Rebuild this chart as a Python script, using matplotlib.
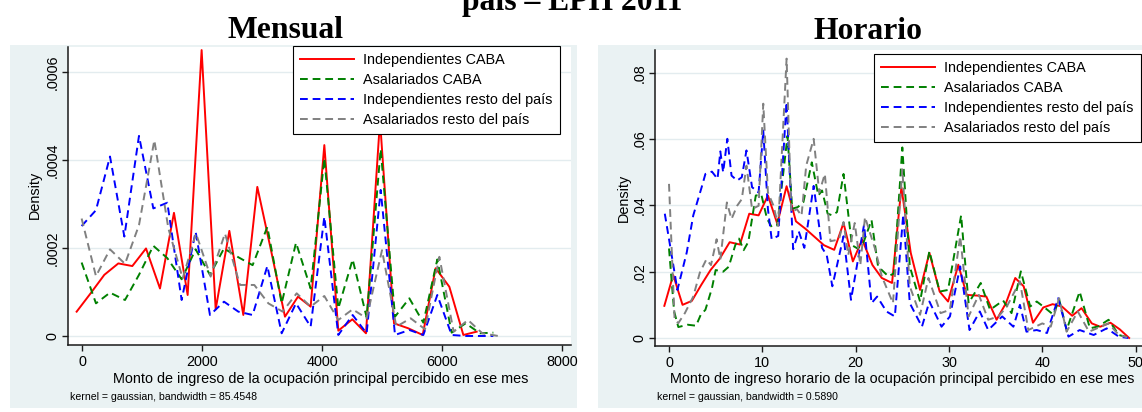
import numpy as np
import matplotlib
matplotlib.use("Agg")
import matplotlib.pyplot as plt
from matplotlib.patches import Rectangle

plt.rcParams['font.family'] = ['Liberation Sans', 'DejaVu Sans']

W, H = 1142, 412

# --- ingreso mensual: densidades kernel por grupo ---
men_ind_caba_x = [-89, 144, 372, 606, 839, 1067, 1300, 1533, 1761, 1994, 2228, 2456, 2689, 2922, 3150,
                  3383, 3600, 3811, 4039, 4272, 4506, 4733, 4967, 5200, 5439, 5678, 5894, 6122, 6356, 6578]
men_ind_caba_y = [.0000553, .0000970, .000139, .000165, .000159, .000199, .000108, .000280, .0000932, .000650,
                  .0000606, .000239, .0000477, .000339, .000195, .0000439, .0000894, .0000667, .000434, .0000121,
                  .0000379, .0000061, .000490, .0000288, .0000174, .0000023, .000154, .000112, .0000023, .0000098]

men_asal_caba_x = [-6, 233, 467, 717, 950, 1189, 1422, 1661, 1894, 2133, 2367, 2606, 2844, 3089, 3328,
                   3567, 3811, 4039, 4272, 4511, 4744, 4978, 5217, 5456, 5689, 5922, 6161, 6394, 6633, 6856]
men_asal_caba_y = [.000167, .0000742, .0000985, .0000818, .000139, .000205, .000177, .000129, .000197, .000139,
                   .000199, .000179, .000161, .000248, .0000742, .000212, .000108, .000404, .0000629, .000174,
                   .0000424, .000425, .0000439, .0000856, .0000303, .000174, .0000076, .0000288, .0000061, .0000076]

men_ind_resto_x = [-6, 233, 467, 706, 950, 1189, 1422, 1661, 1894, 2133, 2367, 2606, 2844, 3089, 3328,
                   3567, 3811, 4039, 4272, 4511, 4744, 4978, 5217, 5456, 5689, 5922, 6161, 6394, 6633, 6856]
men_ind_resto_y = [.000250, .000286, .000408, .000226, .000455, .000290, .000303, .0000818, .000237, .0000477,
                   .0000780, .0000553, .0000477, .000159, .0000061, .0000742, .0000212, .000271, .0000023, .0000477,
                   .0000061, .000332, .0000023, .0000136, .0000023, .0000932, .0000023, 0, 0, 0]

men_asal_resto_x = [-6, 233, 467, 717, 950, 1206, 1439, 1678, 1900, 2144, 2383, 2633, 2872, 3106, 3344,
                    3578, 3811, 4039, 4272, 4511, 4744, 5000, 5239, 5478, 5717, 5956, 6194, 6433, 6672, 6939]
men_asal_resto_y = [.000267, .000136, .000197, .000164, .000252, .000445, .000245, .000131, .000233, .000135,
                    .000233, .000116, .000116, .0000742, .0000553, .0000970, .0000667, .0000909, .0000364, .0000606,
                    .0000402, .000195, .0000212, .0000402, .0000152, .000180, .0000098, .0000364, .0000061, 0]

# --- ingreso horario ---
hr_ind_caba_x = [-0.5, 0.45, 1.45, 2.45, 3.45, 4.45, 5.45, 6.5, 7.6, 8.6, 9.6, 10.6, 11.6, 12.6, 13.6,
                 14.6, 15.6, 16.6, 17.7, 18.7, 19.7, 20.7, 21.8, 22.8, 23.9, 24.9, 25.9, 26.9, 27.9,
                 29.0, 29.9, 31.0, 31.9, 33.0, 34.0, 35.1, 36.1, 37.1, 38.0, 39.0, 40.1, 41.1, 42.1,
                 43.2, 44.2, 45.3, 46.2, 47.3, 48.3, 49.3]
hr_ind_caba_y = [.0097, .0190, .0100, .0112, .0160, .0205, .0240, .0289, .0282, .0375, .0370, .0430, .0345,
                 .0458, .0352, .0330, .0305, .0280, .0266, .0347, .0231, .0297, .0220, .0181, .0166, .0455,
                 .0257, .0145, .0257, .0140, .0110, .0221, .0130, .0128, .0125, .0055, .0105, .0181, .0156,
                 .0046, .0092, .0102, .0095, .0067, .0090, .0044, .0034, .0046, .0026, .0000]

hr_asal_caba_x = [0.0, 0.55, 1.0, 2.0, 2.9, 3.4, 3.9, 4.6, 5.0, 5.8, 6.4, 7.1, 7.5, 8.0, 8.5, 9.3, 9.9,
                  10.5, 11.0, 11.6, 12.7, 13.2, 13.8, 14.4, 15.3, 16.0, 16.4, 17.0, 17.5, 18.0, 18.7, 19.6,
                  20.2, 20.8, 21.7, 22.4, 23.5, 24.1, 25.0, 25.8, 26.9, 27.9, 29.0, 29.9, 31.3, 32.1, 33.4,
                  34.4, 35.8, 36.7, 37.7, 38.7, 39.4, 40.1, 41.2, 41.8, 42.6, 44.0, 45.1, 46.0, 47.1, 48.2,
                  49.4]
hr_asal_caba_y = [.0270, .0080, .0033, .0040, .0037, .0070, .0085, .0150, .0205, .0200, .0215, .0280, .0300,
                  .0265, .0290, .0430, .0432, .0360, .0335, .0340, .0610, .0390, .0395, .0410, .0530, .0430,
                  .0445, .0375, .0370, .0380, .0495, .0280, .0270, .0285, .0356, .0216, .0186, .0195, .0575,
                  .0216, .0110, .0262, .0140, .0145, .0370, .0105, .0166, .0085, .0113, .0075, .0201, .0095,
                  .0110, .0095, .0070, .0117, .0024, .0140, .0029, .0035, .0055, .0009, .0000]

hr_ind_resto_x = [-0.45, 0.9, 1.9, 2.6, 3.5, 3.9, 4.6, 5.2, 5.5, 5.8, 6.25, 6.7, 7.3, 7.8, 8.3, 8.9, 9.6,
                  10.1, 10.6, 11.0, 11.7, 12.6, 13.3, 13.9, 14.5, 15.5, 16.4, 16.9, 17.5, 18.7, 19.5, 20.9,
                  21.7, 22.3, 23.3, 24.2, 25.1, 25.8, 27.1, 27.9, 29.2, 30.1, 31.2, 32.2, 33.3, 34.2, 35.7,
                  36.9, 37.6, 38.3, 39.4, 40.5, 41.7, 42.8, 44.0, 45.5, 46.9, 48.2, 49.2]
hr_ind_resto_y = [.0375, .0145, .0258, .0370, .0455, .0495, .0502, .0480, .0563, .0500, .0601, .0490, .0475,
                  .0485, .0566, .0455, .0439, .0626, .0389, .0298, .0308, .0712, .0268, .0322, .0272, .0459,
                  .0272, .0250, .0156, .0307, .0115, .0342, .0105, .0125, .0080, .0065, .0373, .0105, .0034,
                  .0110, .0034, .0065, .0216, .0024, .0080, .0024, .0065, .0034, .0100, .0019, .0024, .0015,
                  .0120, .0004, .0024, .0009, .0029, .0004, .0000]

hr_asal_resto_x = [0.0, 0.6, 1.0, 1.7, 2.6, 3.3, 4.0, 4.5, 5.1, 5.5, 6.2, 6.7, 7.3, 7.8, 8.3, 8.9, 9.6,
                   10.1, 10.6, 11.2, 11.7, 12.6, 13.1, 13.7, 14.2, 14.7, 15.5, 16.1, 16.7, 17.3, 18.2, 18.7,
                   19.2, 19.9, 20.5, 21.0, 22.1, 22.8, 24.0, 25.0, 25.8, 26.9, 27.8, 29.1, 30.1, 31.2, 32.1,
                   33.2, 34.2, 35.3, 36.2, 37.6, 38.5, 40.0, 40.9, 41.8, 42.6, 43.8, 45.0, 47.1, 48.2, 49.1]
hr_asal_resto_y = [.0465, .0055, .0045, .0075, .0125, .0197, .0237, .0220, .0298, .0237, .0409, .0359, .0399,
                   .0419, .0520, .0389, .0399, .0707, .0439, .0399, .0338, .0843, .0379, .0389, .0369, .0520,
                   .0601, .0439, .0495, .0292, .0297, .0350, .0250, .0347, .0220, .0365, .0267, .0186, .0105,
                   .0509, .0156, .0070, .0181, .0075, .0085, .0307, .0065, .0130, .0055, .0065, .0095, .0171,
                   .0024, .0044, .0034, .0120, .0019, .0080, .0019, .0044, .0009, .0002]

labels = ['Independientes CABA', 'Asalariados CABA',
          'Independientes resto del país', 'Asalariados resto del país']
colors = ['#ff0000', '#008000', '#0000ff', '#808080']
dash = (0, (4, 2.5))
styles = ['-', dash, dash, dash]

men_xticks = [0, 2000, 4000, 6000, 8000]
men_yticks = [0, .0002, .0004, .0006]
men_yticklabels = ['0', '.0002', '.0004', '.0006']
hr_xticks = [0, 10, 20, 30, 40, 50]
hr_yticks = [0, .02, .04, .06, .08]
hr_yticklabels = ['0', '.02', '.04', '.06', '.08']

fig = plt.figure(figsize=(W / 100, H / 100), dpi=100)
fig.patch.set_facecolor('white')


def fbox(x0, y0, x1, y1):
    # pixel box, origin top-left -> figure fraction
    return [x0 / W, 1 - y1 / H, (x1 - x0) / W, (y1 - y0) / H]


def fx(x):
    return x / W


def fy(y):
    return 1 - y / H


# graph regions
for x0, x1 in [(10, 577), (598, W)]:
    l, b, w, h = fbox(x0, 45, x1, 408)
    fig.add_artist(Rectangle((l, b), w, h, transform=fig.transFigure,
                             facecolor='#eaf2f3', edgecolor='none', zorder=-5))


def panel(box, series, xlim, ylim, xticks, yticks, yticklabels, leg_xy):
    ax = fig.add_axes(fbox(*box))
    ax.set_facecolor('white')
    for (x, y), lab, c, ls in zip(series, labels, colors, styles):
        ax.plot(x, y, color=c, ls=ls, lw=1.4, label=lab)
    ax.set_xlim(*xlim)
    ax.set_ylim(*ylim)
    ax.set_xticks(xticks)
    ax.set_yticks(yticks)
    ax.set_yticklabels(yticklabels, rotation=90, va='center')
    ax.yaxis.grid(True, color='#e3ecef', lw=1.0)
    ax.set_axisbelow(True)
    for s in ['top', 'right']:
        ax.spines[s].set_visible(False)
    for s in ['left', 'bottom']:
        ax.spines[s].set_color('#1a1a1a')
        ax.spines[s].set_linewidth(1.1)
    ax.tick_params(direction='out', length=4.2, width=1.0, color='#1a1a1a',
                   labelsize=10.4, labelcolor='black')
    ax.tick_params(axis='y', pad=2)
    ax.tick_params(axis='x', pad=3)
    leg = ax.legend(loc='upper left', bbox_to_anchor=(fx(leg_xy[0]), fy(leg_xy[1])),
                    bbox_transform=fig.transFigure, fontsize=10.4, handlelength=3.72,
                    handletextpad=0.65, borderpad=0.5, labelspacing=0.41, fancybox=False,
                    framealpha=1, edgecolor='black', borderaxespad=0)
    leg.get_frame().set_linewidth(0.8)
    return ax


men_series = [(men_ind_caba_x, men_ind_caba_y), (men_asal_caba_x, men_asal_caba_y),
              (men_ind_resto_x, men_ind_resto_y), (men_asal_resto_x, men_asal_resto_y)]
hr_series = [(hr_ind_caba_x, hr_ind_caba_y), (hr_asal_caba_x, hr_asal_caba_y),
             (hr_ind_resto_x, hr_ind_resto_y), (hr_asal_resto_x, hr_asal_resto_y)]

panel((68, 47, 571, 345), men_series, (-233, 8150), (-0.0000205, 0.000657),
      men_xticks, men_yticks, men_yticklabels, (293, 46))
panel((655, 50, W, 346), hr_series, (-1.5, 50.68), (-0.00242, 0.0869),
      hr_xticks, hr_yticks, hr_yticklabels, (874, 54))

serif = ['Liberation Serif', 'DejaVu Serif']
fig.text(fx(572), fy(10), 'país – EPH 2011', family=serif, weight='bold', size=22.8,
         ha='center', va='baseline')
fig.text(fx(286), fy(38), 'Mensual', family=serif, weight='bold', size=22.8,
         ha='center', va='baseline')
fig.text(fx(868), fy(39), 'Horario', family=serif, weight='bold', size=22.8,
         ha='center', va='baseline')

fig.text(fx(35), fy(195), 'Density', rotation=90, ha='center', va='center', size=10.4)
fig.text(fx(624), fy(198), 'Density', rotation=90, ha='center', va='center', size=10.4)

fig.text(fx(321), fy(379), 'Monto de ingreso de la ocupación principal percibido en ese mes',
         ha='center', va='center', size=10.4)
fig.text(fx(902), fy(379), 'Monto de ingreso horario de la ocupación principal percibido en ese mes',
         ha='center', va='center', size=10.4)
fig.text(fx(70), fy(397), 'kernel = gaussian, bandwidth = 85.4548', ha='left', va='center', size=7.6)
fig.text(fx(657), fy(397), 'kernel = gaussian, bandwidth = 0.5890', ha='left', va='center', size=7.6)

fig.savefig('out.png', dpi=100)
